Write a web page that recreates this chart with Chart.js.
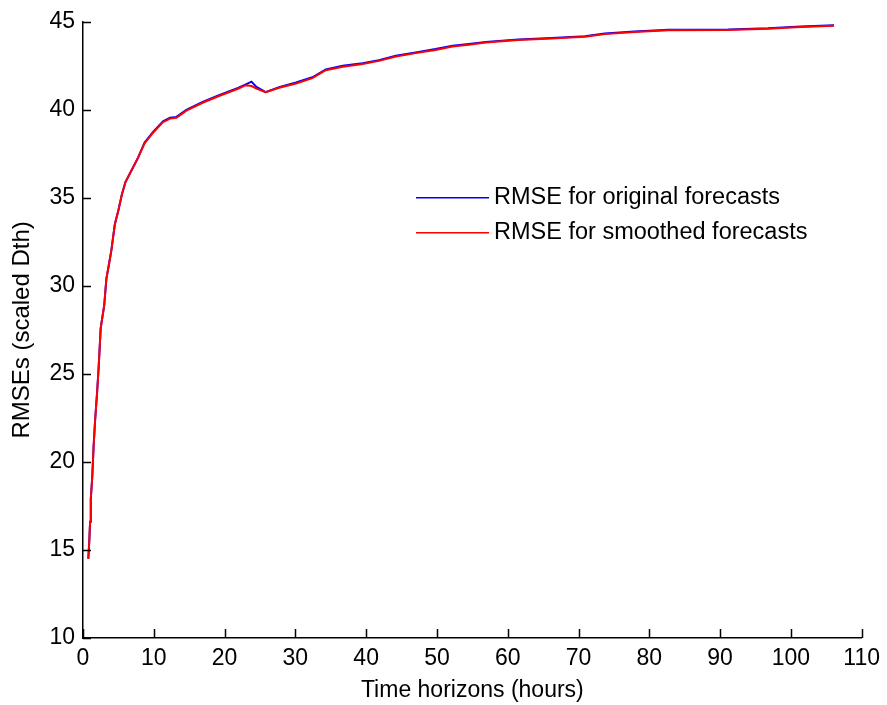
<!DOCTYPE html>
<html>
<head>
<meta charset="utf-8">
<script src="https://cdn.jsdelivr.net/npm/chart.js@4/dist/chart.umd.min.js"></script>
<style>
  html, body { margin: 0; padding: 0; background: #fff; }
  #wrap { width: 887px; height: 705px; }
</style>
</head>
<body>
<div id="wrap"><canvas id="rmseChart" width="887" height="705"></canvas></div>
<script>
// forecast horizon (hours) at the read-off points
const hours = [0.75, 0.9, 1.0, 1.1, 1.3, 1.5, 1.7, 2.0, 2.2, 2.5, 3.0, 3.3, 3.7, 4.0, 4.5, 5.0, 5.5, 6.0, 6.9, 7.8,
  8.7, 9.9, 11.3, 12.3, 13.2, 14.6, 16.9, 19.3, 21.9, 23.0, 23.8, 24.5, 25.8, 27.7, 30.1, 32.4, 34.3, 36.7, 39.5, 41.8,
  44.2, 47.0, 49.8, 52.2, 54.5, 56.9, 61.5, 66.2, 70.9, 73.7, 77.9, 82.7, 91.1, 96.8, 101.4, 106.1];

const rmseSmoothed = [14.5, 15.6, 16.6, 17.9, 19.1, 20.9, 22.3, 24.0, 25.3, 27.6, 28.9, 30.4, 31.3, 32.0, 33.5, 34.3, 35.2, 35.9, 36.6, 37.3,
  38.1, 38.7, 39.3, 39.5, 39.55, 39.95, 40.4, 40.8, 41.2, 41.4, 41.35, 41.2, 41.0, 41.25, 41.5, 41.8, 42.25, 42.45, 42.6, 42.78,
  43.03, 43.22, 43.4, 43.6, 43.7, 43.82, 43.97, 44.05, 44.15, 44.3, 44.42, 44.52, 44.53, 44.6, 44.7, 44.78];

const rmseOriginal = [14.5, 15.6, 16.6, 17.9, 19.1, 20.9, 22.3, 24.0, 25.3, 27.6, 28.9, 30.4, 31.3, 32.0, 33.5, 34.3, 35.2, 35.9, 36.6, 37.3,
  38.15, 38.75, 39.35, 39.55, 39.6, 40.0, 40.45, 40.85, 41.25, 41.45, 41.6, 41.3, 41.0, 41.28, 41.55, 41.85, 42.3, 42.5, 42.65, 42.82,
  43.07, 43.26, 43.45, 43.64, 43.74, 43.86, 44.0, 44.08, 44.18, 44.34, 44.45, 44.55, 44.56, 44.63, 44.74, 44.8];

const xTicks = [0, 10, 20, 30, 40, 50, 60, 70, 80, 90, 100, 110];
const yTicks = [10, 15, 20, 25, 30, 35, 40, 45];

const seriesLabels = ['RMSE for original forecasts', 'RMSE for smoothed forecasts'];
const seriesColors = ['#0000ff', '#ff0000'];

const FONT = 'Arial, "Liberation Sans", sans-serif';

function toPoints(ys) {
  return hours.map((h, i) => ({ x: h, y: ys[i] }));
}

// matlab style ticks pointing into the plot
const inwardTicks = {
  id: 'inwardTicks',
  afterDraw(chart) {
    const ctx = chart.ctx;
    const { x, y } = chart.scales;
    const area = chart.chartArea;
    ctx.save();
    ctx.strokeStyle = '#000';
    ctx.lineWidth = 1.5;
    ctx.beginPath();
    xTicks.forEach(v => {
      const px = Math.round(x.getPixelForValue(v)) + 0.5;
      ctx.moveTo(px, area.bottom);
      ctx.lineTo(px, area.bottom - 9);
    });
    yTicks.forEach(v => {
      const py = Math.round(y.getPixelForValue(v)) + 0.5;
      ctx.moveTo(area.left, py);
      ctx.lineTo(area.left + 8, py);
    });
    ctx.stroke();
    ctx.restore();
  }
};

// legend sitting inside the axes, no box
const innerLegend = {
  id: 'innerLegend',
  afterDraw(chart) {
    const ctx = chart.ctx;
    const area = chart.chartArea;
    const x0 = area.left + 333;
    const y0 = area.top + 176;
    ctx.save();
    ctx.font = '23.5px ' + FONT;
    ctx.textBaseline = 'middle';
    seriesLabels.forEach((lbl, i) => {
      const yy = y0 + i * 35;
      ctx.strokeStyle = seriesColors[i];
      ctx.lineWidth = 1.5;
      ctx.beginPath();
      ctx.moveTo(x0, yy);
      ctx.lineTo(x0 + 73, yy);
      ctx.stroke();
      ctx.fillStyle = '#000';
      ctx.fillText(lbl, x0 + 78, yy);
    });
    ctx.restore();
  }
};

const ctx = document.getElementById('rmseChart').getContext('2d');
const rmseChart = new Chart(ctx, {
  type: 'line',
  data: {
    datasets: [
      {
        label: seriesLabels[0],
        data: toPoints(rmseOriginal),
        borderColor: seriesColors[0],
        borderWidth: 2,
        pointRadius: 0,
        tension: 0,
        order: 1
      },
      {
        label: seriesLabels[1],
        data: toPoints(rmseSmoothed),
        borderColor: seriesColors[1],
        borderWidth: 2,
        pointRadius: 0,
        tension: 0,
        order: 0
      }
    ]
  },
  options: {
    responsive: false,
    animation: false,
    layout: { padding: { left: 0, top: 21, right: 21, bottom: 0 } },
    plugins: { legend: { display: false }, tooltip: { enabled: false } },
    scales: {
      x: {
        type: 'linear',
        min: 0,
        max: 110,
        afterBuildTicks: s => { s.ticks = xTicks.map(v => ({ value: v })); },
        afterFit: s => { s.height = 67; },
        grid: { display: false, drawTicks: false },
        border: { display: true, color: '#000', width: 1.5 },
        ticks: { color: '#000', padding: 7, maxRotation: 0, font: { family: FONT, size: 23 } },
        title: {
          display: true,
          text: 'Time horizons (hours)',
          color: '#000',
          font: { family: FONT, size: 23 },
          padding: { top: 0, bottom: 1 }
        }
      },
      y: {
        min: 10,
        max: 45,
        afterBuildTicks: s => { s.ticks = yTicks.map(v => ({ value: v })); },
        afterFit: s => { s.width = 83; },
        grid: { display: false, drawTicks: false },
        border: { display: true, color: '#000', width: 1.5 },
        ticks: { color: '#000', padding: 8, font: { family: FONT, size: 23 } },
        title: {
          display: true,
          text: 'RMSEs (scaled Dth)',
          color: '#000',
          font: { family: FONT, size: 24 },
          padding: { top: 8, bottom: 0 }
        }
      }
    }
  },
  plugins: [inwardTicks, innerLegend]
});
</script>
</body>
</html>
